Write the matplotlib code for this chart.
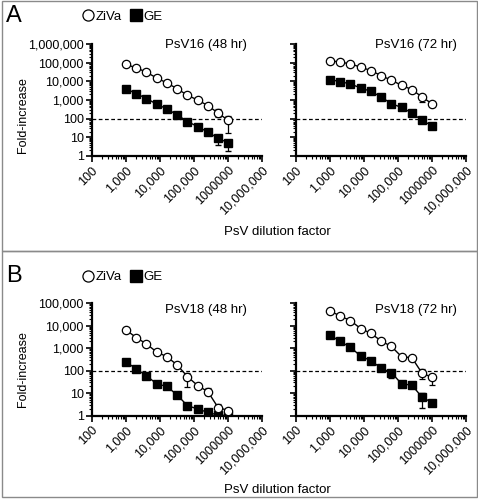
import numpy as np
import matplotlib
matplotlib.use("Agg")
import matplotlib.pyplot as plt
from matplotlib.lines import Line2D
from matplotlib.patches import Rectangle
from matplotlib.ticker import LogLocator, NullFormatter

plt.rcParams['font.family'] = ['Liberation Sans', 'DejaVu Sans']

# dilution factors (2-fold series)
dilution = [1000, 2000, 4000, 8000, 16000, 32000, 64000, 128000, 256000, 512000, 1024000]

# PsV16 48 hr
a48_ziva = [80000, 53000, 31000, 15000, 8200, 4000, 1800, 1000, 500, 200, 80]
a48_ge = [4000, 2200, 1200, 600, 330, 160, 70, 38, 19, 9, 5]
# PsV16 72 hr
a72_ziva = [130000, 106000, 87000, 57000, 38000, 20000, 11500, 6100, 3600, 1450, 610]
a72_ge = [12400, 9700, 7200, 4400, 2900, 1450, 630, 400, 200, 80, 41]
# PsV18 48 hr
b48_ziva = [6500, 3000, 1550, 680, 420, 180, 55, 22, 11.7, 2.3, 1.7]
b48_ge = [250, 120, 60, 26, 20, 8.3, 2.8, 2.0, 1.4, 1.07, 1.0]
# PsV18 72 hr
b72_ziva = [46000, 27000, 17000, 7500, 4600, 2100, 1200, 420, 380, 77, 51]
b72_ge = [3900, 2000, 1100, 450, 280, 130, 82, 26, 23, 6.6, 3.8]

# error bars: (index, lower value, upper value)
a48_ziva_err = [(9, 120, 325), (10, 18, 142)]
a48_ge_err = [(9, 3.9, 12), (10, 1.9, 7.3)]
a72_ziva_err = [(9, 800, 1800)]
a72_ge_err = []
b48_ziva_err = [(6, 19.5, 77), (8, 8, 17.6), (9, 1.8, 3.3)]
b48_ge_err = []
b72_ziva_err = [(9, 41, 115), (10, 23, 65)]
b72_ge_err = [(6, 46, 100), (9, 2.1, 9.9)]

x_ticks = [100, 1000, 10000, 100000, 1000000, 10000000]
x_labels = ['100', '1,000', '10,000', '100,000', '1000000', '10,000,000']
ya_ticks = [1, 10, 100, 1000, 10000, 100000, 1000000]
ya_labels = ['1', '10', '100', '1,000', '10,000', '100,000', '1,000,000']
yb_ticks = [1, 10, 100, 1000, 10000, 100000]
yb_labels = ['1', '10', '100', '1,000', '10,000', '100,000']

W, H = 478, 500
fig = plt.figure(figsize=(W / 100, H / 100), dpi=100)


def px_axes(x0, x1, ytop, ybot):
    return fig.add_axes([x0 / W, 1 - ybot / H, (x1 - x0) / W, (ybot - ytop) / H])


def errs(vals, elist):
    lo = np.zeros(len(vals))
    hi = np.zeros(len(vals))
    for i, l, h in elist:
        lo[i] = vals[i] - l
        hi[i] = h - vals[i]
    return [lo, hi]


def panel(ax, ziva, ge, zerr, gerr, title, tpos, yticks, ylabels, show_y):
    ax.set_xscale('log')
    ax.set_yscale('log')
    ax.errorbar(dilution, ge, yerr=errs(ge, gerr), color='black', lw=1,
                marker='s', ms=5.5, mfc='black', mec='black', capsize=2.5,
                elinewidth=0.9, zorder=3)
    ax.errorbar(dilution, ziva, yerr=errs(ziva, zerr), color='black', lw=1,
                marker='o', ms=6, mfc='white', mec='black', mew=0.9,
                capsize=2.5, elinewidth=0.9, zorder=4)
    ax.axhline(100, color='black', ls=(0, (3, 2)), lw=0.9, zorder=2)
    ax.set_xlim(100, 1e7)
    ax.set_ylim(yticks[0], yticks[-1])
    for s in ['top', 'right']:
        ax.spines[s].set_visible(False)
    for s in ['left', 'bottom']:
        ax.spines[s].set_linewidth(1.6)
    ax.set_xticks(x_ticks)
    ax.set_xticklabels(x_labels, rotation=45, ha='right', rotation_mode='anchor',
                       fontsize=9)
    ax.set_yticks(yticks)
    for axis in [ax.xaxis, ax.yaxis]:
        axis.set_minor_locator(LogLocator(base=10, subs=np.arange(2, 10), numticks=20))
        axis.set_minor_formatter(NullFormatter())
    if show_y:
        ax.set_yticklabels(ylabels, fontsize=9)
    else:
        ax.set_yticklabels([])
    ax.tick_params(which='major', direction='out', length=4, width=1.2, pad=2)
    ax.tick_params(which='minor', direction='out', length=2.5, width=0.8)
    ax.set_facecolor('none')
    ax.text(tpos[0], tpos[1], title, transform=ax.transAxes, ha='right',
            va='center', fontsize=9.5)


axA1 = px_axes(92, 262, 44, 156)
axA2 = px_axes(296, 466, 44, 156)
axB1 = px_axes(92, 262, 303.3, 415.7)
axB2 = px_axes(296, 466, 303.3, 415.7)

panel(axA1, a48_ziva, a48_ge, a48_ziva_err, a48_ge_err, 'PsV16 (48 hr)', (0.91, 0.99),
      ya_ticks, ya_labels, True)
panel(axA2, a72_ziva, a72_ge, a72_ziva_err, a72_ge_err, 'PsV16 (72 hr)', (0.947, 0.99),
      ya_ticks, ya_labels, False)
panel(axB1, b48_ziva, b48_ge, b48_ziva_err, b48_ge_err, 'PsV18 (48 hr)', (0.91, 0.94),
      yb_ticks, yb_labels, True)
panel(axB2, b72_ziva, b72_ge, b72_ziva_err, b72_ge_err, 'PsV18 (72 hr)', (0.947, 0.94),
      yb_ticks, yb_labels, False)

# panel frames
for y0, y1 in [(1, 251), (251, 497)]:
    fig.add_artist(Rectangle((1.5 / W, 1 - y1 / H), 475 / W, (y1 - y0) / H,
                             transform=fig.transFigure, fill=False,
                             edgecolor='#8a8a8a', lw=1))

handles = [Line2D([], [], ls='none', marker='o', ms=8, mfc='white', mec='black', mew=0.9),
           Line2D([], [], ls='none', marker='s', ms=8, mfc='black', mec='black')]
for letter, ytop, ylab_c, xlab_y in [('A', 16, 115, 232), ('B', 276, 369, 490)]:
    fig.text(6 / W, 1 - ytop / H, letter, fontsize=17, ha='left', va='center')
    fig.legend(handles, ['ZiVa', 'GE'], loc='center left',
               bbox_to_anchor=(82 / W, 1 - (ytop + 1) / H), ncol=2, frameon=False,
               fontsize=9.5, handlelength=0.9, handletextpad=0.15,
               columnspacing=0.6, borderaxespad=0, borderpad=0)
    fig.text(23 / W, 1 - ylab_c / H, 'Fold-increase', rotation=90, ha='center',
             va='center', fontsize=9)
    fig.text(277 / W, 1 - xlab_y / H, 'PsV dilution factor', ha='center',
             va='center', fontsize=9.5)

fig.savefig('out.png', dpi=100)
